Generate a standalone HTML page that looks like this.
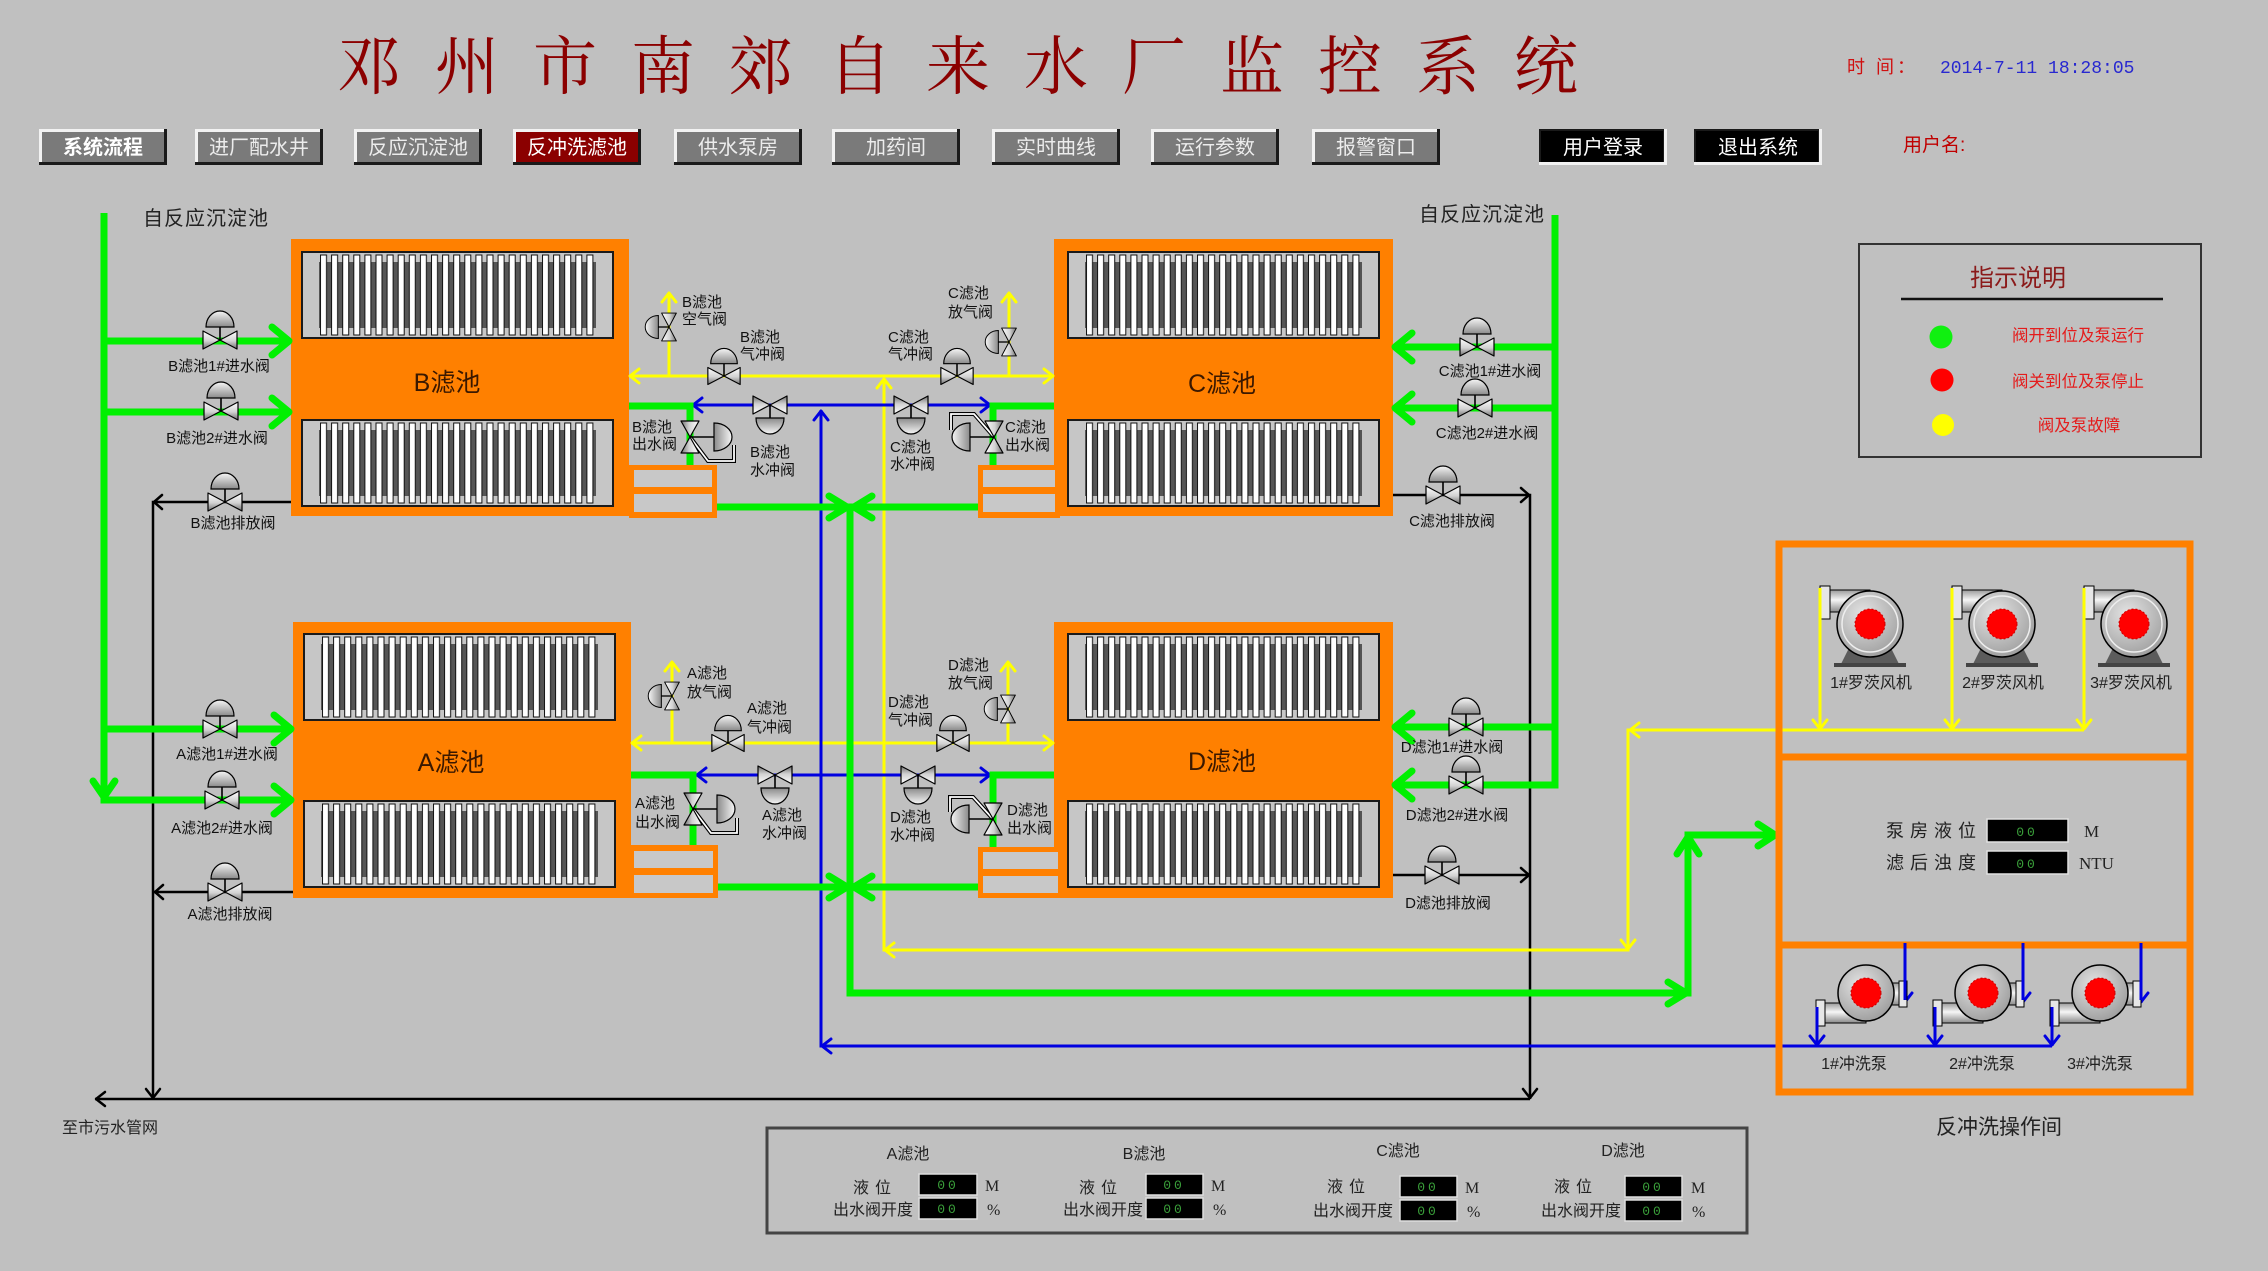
<!DOCTYPE html>
<html><head><meta charset="utf-8">
<style>
html,body{margin:0;padding:0;background:#c0c0c0;width:2268px;height:1271px;overflow:hidden;}
svg{display:block;}
text{font-family:"Liberation Sans","Noto Sans CJK SC",sans-serif;}
.lb{font-size:15px;fill:#111;}
.lc{font-size:15px;fill:#111;text-anchor:middle;}
.bt{font-size:20px;fill:#ececec;text-anchor:middle;}
.ti{font-family:"Liberation Serif","Noto Serif CJK SC",serif;font-size:64px;fill:#8b0000;}
.g{fill:none;stroke:#00f000;stroke-width:7;}
.ga{fill:none;stroke:#00f000;stroke-width:7;stroke-linecap:round;stroke-linejoin:round;}
.y{fill:none;stroke:#ffff00;stroke-width:3;}
.ya{fill:none;stroke:#ffff00;stroke-width:3;stroke-linecap:round;stroke-linejoin:round;}
.b{fill:none;stroke:#0000e0;stroke-width:3;}
.ba{fill:none;stroke:#0000e0;stroke-width:3;stroke-linecap:round;stroke-linejoin:round;}
.k{fill:none;stroke:#000;stroke-width:2.5;}
.ka{fill:none;stroke:#000;stroke-width:2.5;stroke-linecap:round;stroke-linejoin:round;}
.dig{font-family:"Liberation Mono",monospace;font-size:13px;fill:#3aa03a;text-anchor:middle;letter-spacing:3px;}
.pt{font-size:16px;fill:#222;}
</style></head><body>
<svg width="2268" height="1271" viewBox="0 0 2268 1271" xmlns="http://www.w3.org/2000/svg">
<defs>
 <linearGradient id="vg" x1="0" y1="0" x2="0" y2="1">
  <stop offset="0" stop-color="#ffffff"/><stop offset="0.55" stop-color="#d2d2d2"/><stop offset="1" stop-color="#707070"/>
 </linearGradient>
 <linearGradient id="dg" x1="0" y1="0" x2="0" y2="1">
  <stop offset="0" stop-color="#f6f6f6"/><stop offset="1" stop-color="#8a8a8a"/>
 </linearGradient>
 <linearGradient id="pg" x1="0" y1="0" x2="0" y2="1">
  <stop offset="0" stop-color="#9a9a9a"/><stop offset="0.45" stop-color="#f6f6f6"/><stop offset="1" stop-color="#8a8a8a"/>
 </linearGradient>
 <radialGradient id="cg" cx="0.4" cy="0.35" r="0.7">
  <stop offset="0" stop-color="#e4e4e4"/><stop offset="1" stop-color="#9c9c9c"/>
 </radialGradient>
 <g id="valve">
  <path d="M-17,-9L-17,9L0,0ZM17,-9L17,9L0,0Z" fill="url(#vg)" stroke="#000" stroke-width="1.2" stroke-linejoin="round"/>
  <line x1="0" y1="0" x2="0" y2="-13" stroke="#000" stroke-width="1.6"/>
  <path d="M-14,-13A14,16 0 0 1 14,-13Z" fill="url(#dg)" stroke="#000" stroke-width="1.2"/>
 </g>
 <g id="valveO">
  <path d="M-16,-9L-16,9L0,0ZM16,-9L16,9L0,0Z" fill="url(#vg)" stroke="#000" stroke-width="1.2" stroke-linejoin="round"/>
  <line x1="0" y1="0" x2="0" y2="-24" stroke="#000" stroke-width="1.6"/>
  <path d="M-14,-24A14,18 0 0 1 14,-24Z" fill="url(#dg)" stroke="#000" stroke-width="1.2"/>
 </g>
 <pattern id="bars" x="18" y="0" width="11.1" height="86" patternUnits="userSpaceOnUse">
  <rect x="0.5" y="3" width="6" height="80" fill="#fff" stroke="#111" stroke-width="1"/>
 </pattern>
 <g id="grille">
  <rect x="0" y="0" width="311" height="86" fill="#c6c6c6" stroke="#1a1a1a" stroke-width="2"/>
  <rect x="17" y="10" width="277" height="66" fill="#555"/>
  <rect x="18" y="0" width="274" height="86" fill="url(#bars)"/>
 </g>
 <g id="blower">
  <path d="M-30,42 L-20,22 L20,22 L30,42 Z" fill="#5c5c5c"/>
  <rect x="-36" y="39" width="72" height="4" fill="#444"/>
  <rect x="-46" y="-34" width="46" height="22" fill="url(#pg)" stroke="#000" stroke-width="1"/>
  <circle r="33" fill="url(#cg)" stroke="#000" stroke-width="1.5"/>
  <circle r="28" fill="none" stroke="#eee" stroke-width="1.5"/>
  <rect x="-50" y="-38" width="10" height="33" fill="#e6e6e6" stroke="#000" stroke-width="1"/>
  <circle r="15" fill="#ff0000" stroke="#c80000" stroke-width="1" stroke-dasharray="2,2"/>
 </g>
 <g id="pump">
  <rect x="-48" y="10" width="48" height="20" fill="url(#pg)" stroke="#000" stroke-width="1"/>
  <rect x="0" y="-10" width="36" height="22" fill="url(#pg)" stroke="#000" stroke-width="1"/>
  <circle r="28" fill="url(#cg)" stroke="#000" stroke-width="1.5"/>
  <rect x="-50" y="7" width="9" height="26" fill="#e6e6e6" stroke="#000" stroke-width="1"/>
  <rect x="33" y="-12" width="8" height="26" fill="#e6e6e6" stroke="#000" stroke-width="1"/>
  <circle r="15" fill="#ff0000" stroke="#c80000" stroke-width="1" stroke-dasharray="2,2"/>
 </g>
</defs>

<!-- Title -->
<text x="337" y="89" class="ti">邓</text>
<text x="435" y="89" class="ti">州</text>
<text x="533" y="89" class="ti">市</text>
<text x="631" y="89" class="ti">南</text>
<text x="729" y="89" class="ti">郊</text>
<text x="828" y="89" class="ti">自</text>
<text x="926" y="89" class="ti">来</text>
<text x="1024" y="89" class="ti">水</text>
<text x="1122" y="89" class="ti">厂</text>
<text x="1220" y="89" class="ti">监</text>
<text x="1318" y="89" class="ti">控</text>
<text x="1416" y="89" class="ti">系</text>
<text x="1514" y="89" class="ti">统</text>

<text x="1847" y="73" font-size="18" fill="#d01010" letter-spacing="3">时 间：</text>
<text x="1940" y="73" font-size="18" fill="#2828d0" style="font-family:'Liberation Mono',monospace">2014-7-11 18:28:05</text>
<text x="1903" y="151" font-size="19" fill="#c00000">用户名:</text>

<!-- Buttons -->
<g>
 <rect x="39" y="129" width="128" height="36" fill="#1a1a1a"/><rect x="39" y="129" width="125" height="33" fill="#f2f2f2"/><rect x="42" y="132" width="122" height="30" fill="#7a7a7a"/>
 <text x="103" y="154" class="bt" style="font-weight:bold;fill:#fff">系统流程</text>
 <rect x="195" y="129" width="128" height="36" fill="#1a1a1a"/><rect x="195" y="129" width="125" height="33" fill="#f2f2f2"/><rect x="198" y="132" width="122" height="30" fill="#7a7a7a"/>
 <text x="259" y="154" class="bt">进厂配水井</text>
 <rect x="354" y="129" width="128" height="36" fill="#1a1a1a"/><rect x="354" y="129" width="125" height="33" fill="#f2f2f2"/><rect x="357" y="132" width="122" height="30" fill="#7a7a7a"/>
 <text x="418" y="154" class="bt">反应沉淀池</text>
 <rect x="513" y="129" width="128" height="36" fill="#1a1a1a"/><rect x="513" y="129" width="125" height="33" fill="#f2f2f2"/><rect x="516" y="132" width="122" height="30" fill="#8b0000"/>
 <text x="577" y="154" class="bt" style="fill:#fff">反冲洗滤池</text>
 <rect x="674" y="129" width="128" height="36" fill="#1a1a1a"/><rect x="674" y="129" width="125" height="33" fill="#f2f2f2"/><rect x="677" y="132" width="122" height="30" fill="#7a7a7a"/>
 <text x="738" y="154" class="bt">供水泵房</text>
 <rect x="832" y="129" width="128" height="36" fill="#1a1a1a"/><rect x="832" y="129" width="125" height="33" fill="#f2f2f2"/><rect x="835" y="132" width="122" height="30" fill="#7a7a7a"/>
 <text x="896" y="154" class="bt">加药间</text>
 <rect x="992" y="129" width="128" height="36" fill="#1a1a1a"/><rect x="992" y="129" width="125" height="33" fill="#f2f2f2"/><rect x="995" y="132" width="122" height="30" fill="#7a7a7a"/>
 <text x="1056" y="154" class="bt">实时曲线</text>
 <rect x="1151" y="129" width="128" height="36" fill="#1a1a1a"/><rect x="1151" y="129" width="125" height="33" fill="#f2f2f2"/><rect x="1154" y="132" width="122" height="30" fill="#7a7a7a"/>
 <text x="1215" y="154" class="bt">运行参数</text>
 <rect x="1312" y="129" width="128" height="36" fill="#1a1a1a"/><rect x="1312" y="129" width="125" height="33" fill="#f2f2f2"/><rect x="1315" y="132" width="122" height="30" fill="#7a7a7a"/>
 <text x="1376" y="154" class="bt">报警窗口</text>
 <rect x="1539" y="129" width="128" height="36" fill="#f2f2f2"/><rect x="1539" y="129" width="125" height="33" fill="#1a1a1a"/><rect x="1541" y="131" width="122" height="31" fill="#000"/>
 <text x="1603" y="154" class="bt" style="fill:#fff">用户登录</text>
 <rect x="1694" y="129" width="128" height="36" fill="#f2f2f2"/><rect x="1694" y="129" width="125" height="33" fill="#1a1a1a"/><rect x="1696" y="131" width="122" height="31" fill="#000"/>
 <text x="1758" y="154" class="bt" style="fill:#fff">退出系统</text>
</g>

<text x="143" y="225" font-size="20" fill="#222" letter-spacing="1">自反应沉淀池</text>
<text x="1545" y="221" font-size="20" fill="#222" text-anchor="end" letter-spacing="1">自反应沉淀池</text>

<!-- Filter boxes -->
<rect x="291" y="239" width="338" height="277" fill="#ff8000"/>
<use href="#grille" x="302" y="252"/><use href="#grille" x="302" y="420"/>
<rect x="1054" y="239" width="339" height="277" fill="#ff8000"/>
<use href="#grille" x="1068" y="252"/><use href="#grille" x="1068" y="420"/>
<rect x="293" y="622" width="338" height="276" fill="#ff8000"/>
<use href="#grille" x="304" y="634"/><use href="#grille" x="304" y="801"/>
<rect x="1054" y="622" width="339" height="276" fill="#ff8000"/>
<use href="#grille" x="1068" y="634"/><use href="#grille" x="1068" y="801"/>

<text x="447" y="391" font-size="25" fill="#3a1800" text-anchor="middle">B滤池</text>
<text x="1222" y="392" font-size="25" fill="#3a1800" text-anchor="middle">C滤池</text>
<text x="451" y="771" font-size="25" fill="#3a1800" text-anchor="middle">A滤池</text>
<text x="1222" y="770" font-size="25" fill="#3a1800" text-anchor="middle">D滤池</text>

<!-- small outlet boxes -->
<rect x="629" y="465" width="88" height="53" fill="#ff8000"/>
<rect x="634" y="470" width="78" height="17" fill="#c8c8c8"/><rect x="634" y="494" width="78" height="18" fill="#c8c8c8"/>
<rect x="978" y="465" width="82" height="53" fill="#ff8000"/>
<rect x="983" y="470" width="72" height="17" fill="#c8c8c8"/><rect x="983" y="494" width="72" height="18" fill="#c8c8c8"/>
<rect x="629" y="845" width="89" height="53" fill="#ff8000"/>
<rect x="634" y="851" width="79" height="17" fill="#c8c8c8"/><rect x="634" y="875" width="79" height="18" fill="#c8c8c8"/>
<rect x="978" y="847" width="85" height="51" fill="#ff8000"/>
<rect x="983" y="852" width="75" height="17" fill="#c8c8c8"/><rect x="983" y="876" width="75" height="17" fill="#c8c8c8"/>

<!-- Black drain lines -->
<path class="k" d="M291,502 H153 V1099"/>
<path class="k" d="M293,892 H154"/>
<path class="k" d="M95,1099 H1530"/>
<path class="k" d="M1393,495 H1530 V1099"/>
<path class="k" d="M1393,875 H1530"/>
<polyline class="ka" points="162,495 154,502 162,509"/>
<polyline class="ka" points="163,885 155,892 163,899"/>
<polyline class="ka" points="146,1089 153,1098 160,1089"/>
<polyline class="ka" points="105,1092 96,1099 105,1106"/>
<polyline class="ka" points="1521,488 1529,495 1521,502"/>
<polyline class="ka" points="1521,868 1529,875 1521,882"/>
<polyline class="ka" points="1523,1089 1530,1098 1537,1089"/>
<text x="62" y="1133" font-size="16" fill="#222">至市污水管网</text>

<!-- Yellow air lines -->
<path class="y" d="M629,376 H1054 M669,376 V293 M1009,376 V293"/>
<path class="y" d="M631,743 H1054 M672,743 V662 M1008,743 V662"/>
<path class="y" d="M884,378 V950 H1628 V730 H2084 M1820,588 V730 M1952,588 V730 M2084,588 V730"/>
<polyline class="ya" points="639,369 630,376 639,383"/>
<polyline class="ya" points="1044,369 1053,376 1044,383"/>
<polyline class="ya" points="662,302 669,293 676,302"/>
<polyline class="ya" points="1002,302 1009,293 1016,302"/>
<polyline class="ya" points="641,736 632,743 641,750"/>
<polyline class="ya" points="1044,736 1053,743 1044,750"/>
<polyline class="ya" points="665,671 672,662 679,671"/>
<polyline class="ya" points="1001,671 1008,662 1015,671"/>
<polyline class="ya" points="877,388 884,379 891,388"/>
<polyline class="ya" points="894,943 885,950 894,957"/>
<polyline class="ya" points="1621,940 1628,949 1635,940"/>
<polyline class="ya" points="1639,723 1630,730 1639,737"/>
<polyline class="ya" points="1813,720 1820,729 1827,720"/>
<polyline class="ya" points="1945,720 1952,729 1959,720"/>
<polyline class="ya" points="2077,720 2084,729 2091,720"/>

<!-- Blue water lines -->
<path class="b" d="M692,405 H990 M697,775 H990 M821,410 V1046 H2052"/>
<path class="b" d="M1817,1002 V1046 M1935,1002 V1046 M2052,1002 V1046 M1905,943 V1003 M2023,943 V1003 M2141,943 V1003"/>
<polyline class="ba" points="702,398 693,405 702,412"/>
<polyline class="ba" points="981,398 990,405 981,412"/>
<polyline class="ba" points="706,768 697,775 706,782"/>
<polyline class="ba" points="981,768 990,775 981,782"/>
<polyline class="ba" points="814,420 821,411 828,420"/>
<polyline class="ba" points="831,1039 822,1046 831,1053"/>
<polyline class="ba" points="1810,1036 1817,1045 1824,1036"/>
<polyline class="ba" points="1928,1036 1935,1045 1942,1036"/>
<polyline class="ba" points="2045,1036 2052,1045 2059,1036"/>
<polyline class="ba" points="1898,993 1905,1002 1912,993"/>
<polyline class="ba" points="2016,993 2023,1002 2030,993"/>
<polyline class="ba" points="2134,993 2141,1002 2148,993"/>

<!-- Green water lines -->
<path class="g" d="M104,213 V800 H291 M104,341 H289 M104,412 H289 M104,729 H291"/>
<path class="g" d="M1555,215 V785 H1395 M1555,347 H1395 M1555,408 H1395 M1555,727 H1395"/>
<path class="g" d="M629,406 H690 V465 M1054,406 H993 V465 M631,775 H693 V845 M1054,775 H993 V847"/>
<path class="g" d="M717,507 H978 M718,887 H978 M850,507 V993 H1688 V835 H1775"/>
<polyline class="ga" points="93,781 104,797 115,781"/>
<polyline class="ga" points="272,327 289,341 272,355"/>
<polyline class="ga" points="272,398 289,412 272,426"/>
<polyline class="ga" points="274,715 291,729 274,743"/>
<polyline class="ga" points="274,786 291,800 274,814"/>
<polyline class="ga" points="1412,333 1395,347 1412,361"/>
<polyline class="ga" points="1412,394 1395,408 1412,422"/>
<polyline class="ga" points="1412,713 1395,727 1412,741"/>
<polyline class="ga" points="1412,771 1395,785 1412,799"/>
<polyline class="ga" points="829,496 847,507 829,518"/>
<polyline class="ga" points="872,496 854,507 872,518"/>
<polyline class="ga" points="829,876 847,887 829,898"/>
<polyline class="ga" points="872,876 854,887 872,898"/>
<polyline class="ga" points="1668,982 1686,993 1668,1004"/>
<polyline class="ga" points="1677,854 1688,837 1699,854"/>
<polyline class="ga" points="1758,824 1775,835 1758,846"/>

<!-- Inlet / drain valves -->
<use href="#valve" transform="translate(220,340)"/>
<use href="#valve" transform="translate(221,411)"/>
<use href="#valve" transform="translate(225,502)"/>
<use href="#valve" transform="translate(220,729)"/>
<use href="#valve" transform="translate(222,800)"/>
<use href="#valve" transform="translate(225,892)"/>
<use href="#valve" transform="translate(1477,347)"/>
<use href="#valve" transform="translate(1475,408)"/>
<use href="#valve" transform="translate(1443,495)"/>
<use href="#valve" transform="translate(1466,727)"/>
<use href="#valve" transform="translate(1466,785)"/>
<use href="#valve" transform="translate(1442,875)"/>

<text x="219" y="371" class="lc">B滤池1#进水阀</text>
<text x="217" y="443" class="lc">B滤池2#进水阀</text>
<text x="233" y="528" class="lc">B滤池排放阀</text>
<text x="227" y="759" class="lc">A滤池1#进水阀</text>
<text x="222" y="833" class="lc">A滤池2#进水阀</text>
<text x="230" y="919" class="lc">A滤池排放阀</text>
<text x="1490" y="376" class="lc">C滤池1#进水阀</text>
<text x="1487" y="438" class="lc">C滤池2#进水阀</text>
<text x="1452" y="526" class="lc">C滤池排放阀</text>
<text x="1452" y="752" class="lc">D滤池1#进水阀</text>
<text x="1457" y="820" class="lc">D滤池2#进水阀</text>
<text x="1448" y="908" class="lc">D滤池排放阀</text>

<!-- middle valves B/C -->
<use href="#valve" transform="translate(669,327) rotate(-90) scale(0.82)"/>
<use href="#valve" transform="translate(724,376) scale(0.95)"/>
<use href="#valve" transform="translate(957,376) scale(0.95)"/>
<use href="#valve" transform="translate(1009,342) rotate(-90) scale(0.82)"/>
<use href="#valve" transform="translate(770,405) rotate(180)"/>
<use href="#valve" transform="translate(911,405) rotate(180)"/>
<polyline points="690,437 708,461 734,461 734,445" fill="none" stroke="#000" stroke-width="4"/>
<polyline points="690,437 708,461 734,461 734,445" fill="none" stroke="#fff" stroke-width="1.8"/>
<use href="#valveO" transform="translate(690,437) rotate(90)"/>
<polyline points="994,437 974,414 951,414 951,430" fill="none" stroke="#000" stroke-width="4"/>
<polyline points="994,437 974,414 951,414 951,430" fill="none" stroke="#fff" stroke-width="1.8"/>
<use href="#valveO" transform="translate(994,437) rotate(-90)"/>

<!-- middle valves A/D -->
<use href="#valve" transform="translate(672,696) rotate(-90) scale(0.82)"/>
<use href="#valve" transform="translate(728,743) scale(0.95)"/>
<use href="#valve" transform="translate(953,743) scale(0.95)"/>
<use href="#valve" transform="translate(1008,709) rotate(-90) scale(0.82)"/>
<use href="#valve" transform="translate(775,775) rotate(180)"/>
<use href="#valve" transform="translate(918,775) rotate(180)"/>
<polyline points="693,809 711,833 737,833 737,818" fill="none" stroke="#000" stroke-width="4"/>
<polyline points="693,809 711,833 737,833 737,818" fill="none" stroke="#fff" stroke-width="1.8"/>
<use href="#valveO" transform="translate(693,809) rotate(90)"/>
<polyline points="993,819 973,797 950,797 950,812" fill="none" stroke="#000" stroke-width="4"/>
<polyline points="993,819 973,797 950,797 950,812" fill="none" stroke="#fff" stroke-width="1.8"/>
<use href="#valveO" transform="translate(993,819) rotate(-90)"/>

<!-- middle labels -->
<text x="682" y="307" class="lb">B滤池</text><text x="682" y="324" class="lb">空气阀</text>
<text x="740" y="342" class="lb">B滤池</text><text x="740" y="359" class="lb">气冲阀</text>
<text x="888" y="342" class="lb">C滤池</text><text x="888" y="359" class="lb">气冲阀</text>
<text x="948" y="298" class="lb">C滤池</text><text x="948" y="317" class="lb">放气阀</text>
<text x="632" y="432" class="lb">B滤池</text><text x="632" y="449" class="lb">出水阀</text>
<text x="750" y="457" class="lb">B滤池</text><text x="750" y="475" class="lb">水冲阀</text>
<text x="890" y="452" class="lb">C滤池</text><text x="890" y="469" class="lb">水冲阀</text>
<text x="1005" y="432" class="lb">C滤池</text><text x="1005" y="450" class="lb">出水阀</text>
<text x="687" y="678" class="lb">A滤池</text><text x="687" y="697" class="lb">放气阀</text>
<text x="747" y="713" class="lb">A滤池</text><text x="747" y="732" class="lb">气冲阀</text>
<text x="888" y="707" class="lb">D滤池</text><text x="888" y="725" class="lb">气冲阀</text>
<text x="948" y="670" class="lb">D滤池</text><text x="948" y="688" class="lb">放气阀</text>
<text x="635" y="808" class="lb">A滤池</text><text x="635" y="827" class="lb">出水阀</text>
<text x="762" y="820" class="lb">A滤池</text><text x="762" y="838" class="lb">水冲阀</text>
<text x="890" y="822" class="lb">D滤池</text><text x="890" y="840" class="lb">水冲阀</text>
<text x="1007" y="815" class="lb">D滤池</text><text x="1007" y="833" class="lb">出水阀</text>

<!-- Legend -->
<rect x="1859" y="244" width="342" height="213" fill="none" stroke="#333" stroke-width="2"/>
<text x="2018" y="286" font-size="24" fill="#8b1a1a" text-anchor="middle">指示说明</text>
<line x1="1901" y1="299" x2="2163" y2="299" stroke="#111" stroke-width="2.5"/>
<circle cx="1941" cy="337" r="11.5" fill="#10f010"/>
<circle cx="1942" cy="380" r="11.5" fill="#ff0000"/>
<circle cx="1943" cy="425" r="11" fill="#ffff00"/>
<text x="2078" y="341" font-size="16.5" fill="#e41c1c" text-anchor="middle">阀开到位及泵运行</text>
<text x="2078" y="387" font-size="16.5" fill="#e41c1c" text-anchor="middle">阀关到位及泵停止</text>
<text x="2079" y="431" font-size="16.5" fill="#e41c1c" text-anchor="middle">阀及泵故障</text>

<!-- Backwash room -->
<rect x="1779" y="544" width="411" height="213" fill="none" stroke="#ff8000" stroke-width="7"/>
<rect x="1779" y="757" width="411" height="188" fill="none" stroke="#ff8000" stroke-width="7"/>
<rect x="1779" y="945" width="411" height="147" fill="none" stroke="#ff8000" stroke-width="7"/>
<use href="#blower" transform="translate(1870,624)"/>
<use href="#blower" transform="translate(2002,624)"/>
<use href="#blower" transform="translate(2134,624)"/>
<path class="y" d="M1820,588 V720 M1952,588 V720 M2084,588 V720"/>
<text x="1871" y="688" class="pt" text-anchor="middle">1#罗茨风机</text>
<text x="2003" y="688" class="pt" text-anchor="middle">2#罗茨风机</text>
<text x="2131" y="688" class="pt" text-anchor="middle">3#罗茨风机</text>

<text x="1886" y="837" font-size="18" fill="#222" letter-spacing="6">泵房液位</text>
<rect x="1987" y="819" width="81" height="23" fill="#000" stroke="#e0e0e0" stroke-width="1.5"/>
<text x="2027" y="836" class="dig">00</text>
<text x="2084" y="837" font-size="17" fill="#222" style="font-family:'Liberation Serif',serif">M</text>
<text x="1886" y="869" font-size="18" fill="#222" letter-spacing="6">滤后浊度</text>
<rect x="1987" y="851" width="81" height="23" fill="#000" stroke="#e0e0e0" stroke-width="1.5"/>
<text x="2027" y="868" class="dig">00</text>
<text x="2079" y="869" font-size="17" fill="#222" style="font-family:'Liberation Serif',serif">NTU</text>

<use href="#pump" transform="translate(1866,993)"/>
<use href="#pump" transform="translate(1983,993)"/>
<use href="#pump" transform="translate(2100,993)"/>
<path class="b" d="M1905,943 V1000 M2023,943 V1000 M2141,943 V1000 M1817,1007 V1046 M1935,1007 V1046 M2052,1007 V1046"/>
<text x="1854" y="1069" class="pt" text-anchor="middle">1#冲洗泵</text>
<text x="1982" y="1069" class="pt" text-anchor="middle">2#冲洗泵</text>
<text x="2100" y="1069" class="pt" text-anchor="middle">3#冲洗泵</text>
<text x="1999" y="1134" font-size="21" fill="#222" text-anchor="middle">反冲洗操作间</text>

<!-- Bottom panel -->
<rect x="767" y="1128" width="980" height="105" fill="none" stroke="#444" stroke-width="3"/>
<g font-size="16" fill="#222">
 <text x="908" y="1159" text-anchor="middle">A滤池</text>
 <text x="897" y="1193" text-anchor="end" letter-spacing="6">液位</text>
 <text x="913" y="1215" text-anchor="end">出水阀开度</text>
 <text x="1144" y="1159" text-anchor="middle">B滤池</text>
 <text x="1123" y="1193" text-anchor="end" letter-spacing="6">液位</text>
 <text x="1143" y="1215" text-anchor="end">出水阀开度</text>
 <text x="1398" y="1156" text-anchor="middle">C滤池</text>
 <text x="1371" y="1192" text-anchor="end" letter-spacing="6">液位</text>
 <text x="1393" y="1216" text-anchor="end">出水阀开度</text>
 <text x="1623" y="1156" text-anchor="middle">D滤池</text>
 <text x="1598" y="1192" text-anchor="end" letter-spacing="6">液位</text>
 <text x="1621" y="1216" text-anchor="end">出水阀开度</text>
</g>
<g>
 <rect x="919" y="1174" width="58" height="21" fill="#000" stroke="#ddd" stroke-width="1.5"/><text x="948" y="1189" class="dig">00</text>
 <rect x="919" y="1198" width="58" height="21" fill="#000" stroke="#ddd" stroke-width="1.5"/><text x="948" y="1213" class="dig">00</text>
 <rect x="1146" y="1174" width="57" height="21" fill="#000" stroke="#ddd" stroke-width="1.5"/><text x="1174" y="1189" class="dig">00</text>
 <rect x="1146" y="1198" width="57" height="21" fill="#000" stroke="#ddd" stroke-width="1.5"/><text x="1174" y="1213" class="dig">00</text>
 <rect x="1400" y="1176" width="57" height="21" fill="#000" stroke="#ddd" stroke-width="1.5"/><text x="1428" y="1191" class="dig">00</text>
 <rect x="1400" y="1200" width="57" height="21" fill="#000" stroke="#ddd" stroke-width="1.5"/><text x="1428" y="1215" class="dig">00</text>
 <rect x="1625" y="1176" width="57" height="21" fill="#000" stroke="#ddd" stroke-width="1.5"/><text x="1653" y="1191" class="dig">00</text>
 <rect x="1625" y="1200" width="57" height="21" fill="#000" stroke="#ddd" stroke-width="1.5"/><text x="1653" y="1215" class="dig">00</text>
</g>
<g font-size="16" fill="#222">
 <text x="985" y="1191" style="font-family:'Liberation Serif',serif">M</text>
 <text x="987" y="1215" style="font-family:'Liberation Serif',serif">%</text>
 <text x="1211" y="1191" style="font-family:'Liberation Serif',serif">M</text>
 <text x="1213" y="1215" style="font-family:'Liberation Serif',serif">%</text>
 <text x="1465" y="1193" style="font-family:'Liberation Serif',serif">M</text>
 <text x="1467" y="1217" style="font-family:'Liberation Serif',serif">%</text>
 <text x="1691" y="1193" style="font-family:'Liberation Serif',serif">M</text>
 <text x="1692" y="1217" style="font-family:'Liberation Serif',serif">%</text>
</g>
</svg>
</body></html>
